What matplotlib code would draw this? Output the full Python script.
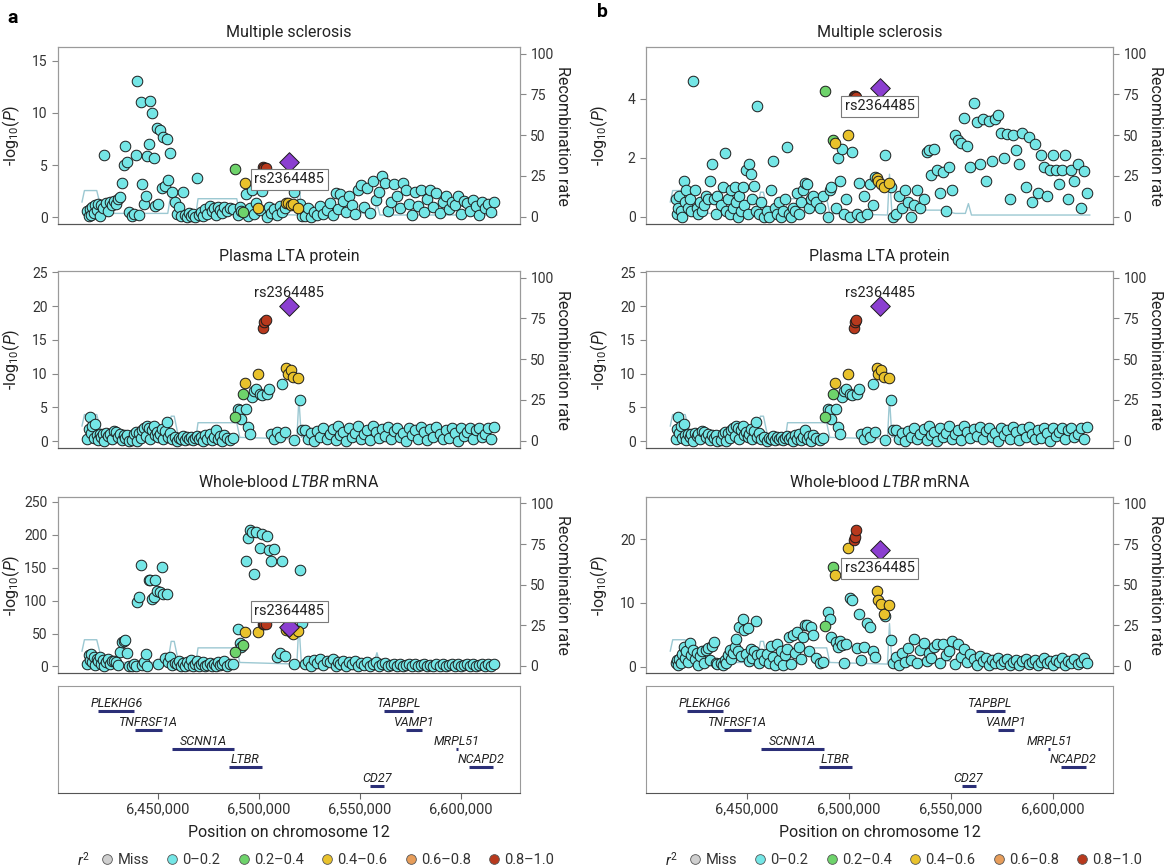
import numpy as np
import matplotlib.pyplot as plt
from matplotlib.lines import Line2D
from matplotlib.ticker import FuncFormatter

plt.rcParams['font.family'] = ['Roboto', 'DejaVu Sans']
plt.rcParams['mathtext.fontset'] = 'custom'
plt.rcParams['mathtext.rm'] = 'Roboto'
plt.rcParams['mathtext.it'] = 'Roboto:italic'
plt.rcParams['mathtext.bf'] = 'Roboto:bold'

# SNP positions (kb on chr12)
snp_kb = [
    6415.0, 6415.6, 6416.2, 6416.8, 6417.5, 6418.1, 6418.8, 6419.5, 6420.2, 6421.0, 6421.8, 6422.6, 6423.4,
    6424.3, 6425.2, 6426.1, 6427.0, 6428.0, 6429.0, 6430.0, 6431.0, 6432.0, 6433.0, 6433.8, 6434.6, 6435.4,
    6437.0, 6438.0, 6439.0, 6439.8, 6440.6, 6441.4, 6442.2, 6443.0, 6443.8, 6444.6, 6445.4, 6446.2, 6447.0,
    6447.8, 6448.6, 6449.4, 6450.2, 6451.0, 6451.8, 6452.6, 6453.4, 6454.2, 6455.0, 6456.0, 6457.0, 6458.5,
    6459.5, 6460.5, 6461.5, 6462.5, 6463.5, 6464.5, 6465.5, 6466.5, 6467.5, 6468.5, 6469.5, 6470.5, 6471.5,
    6472.5, 6473.5, 6474.5, 6475.5, 6476.5, 6477.5, 6478.5, 6479.5, 6480.5, 6481.5, 6482.5, 6484.0, 6485.5,
    6487.0, 6488.3, 6489.5, 6490.5, 6491.2, 6492.0, 6493.0, 6493.8, 6494.6, 6495.5, 6496.5, 6497.5,
    6498.5, 6499.5, 6500.5, 6501.5, 6502.2, 6502.7, 6503.3, 6504.0, 6505.0, 6506.0, 6507.5, 6509.0,
    6510.3, 6511.5, 6512.8, 6513.6, 6514.2, 6515.0, 6515.8, 6517.0, 6519.5, 6517.5, 6520.5, 6521.5,
    6523.0, 6524.5, 6526.0, 6527.5, 6529.0, 6530.5, 6532.0, 6533.5, 6535.0, 6536.5, 6538.0, 6539.0, 6540.0,
    6541.5, 6543.0, 6544.5, 6546.0, 6547.5, 6549.0, 6550.5, 6552.0, 6553.5, 6555.0, 6556.5, 6558.0, 6559.5,
    6561.0, 6562.5, 6564.0, 6565.5, 6567.0, 6568.5, 6570.0, 6571.5, 6573.0, 6574.5, 6576.0, 6577.5, 6579.0,
    6580.5, 6582.0, 6583.5, 6585.0, 6586.5, 6588.0, 6589.5, 6591.0, 6592.5, 6594.0, 6595.5, 6597.0, 6598.5,
    6600.0, 6601.5, 6603.0, 6604.5, 6606.0, 6607.5, 6609.0, 6610.5, 6612.0, 6613.5, 6615.0, 6616.5,
]

# r2 class with rs2364485: 0 = 0-0.2, 1 = 0.2-0.4, 2 = 0.4-0.6, 3 = 0.6-0.8, 4 = 0.8-1.0, 5 = lead SNP
ld_class = [
    0, 0, 0, 0, 0, 0, 0, 0, 0, 0, 0, 0, 0, 0, 0, 0, 0, 0, 0, 0, 0, 0, 0, 0, 0, 0,
    0, 0, 0, 0, 0, 0, 0, 0, 0, 0, 0, 0, 0, 0, 0, 0, 0, 0, 0, 0, 0, 0, 0, 0, 0, 0,
    0, 0, 0, 0, 0, 0, 0, 0, 0, 0, 0, 0, 0, 0, 0, 0, 0, 0, 0, 0, 0, 0, 0, 0, 0, 0,
    0, 1, 0, 0, 0, 1, 2, 0, 0, 0, 0, 0, 0, 2, 0, 0, 4, 4, 4, 0, 0, 0, 0, 0,
    0, 0, 0, 2, 2, 5, 2, 2, 2, 0, 0, 0,
    0, 0, 0, 0, 0, 0, 0, 0, 0, 0, 0, 0, 0, 0, 0, 0, 0, 0, 0, 0, 0, 0, 0, 0, 0, 0, 0, 0, 0, 0, 0, 0,
    0, 0, 0, 0, 0, 0, 0, 0, 0, 0, 0, 0, 0, 0, 0, 0, 0, 0, 0, 0, 0, 0, 0, 0, 0, 0, 0, 0, 0, 0, 0, 0,
]

# -log10(P) per trait
logp_ms_a = [
    0.6, 0.1, 0.8, 0.2, 1.0, 0.4, 1.2, 0.7, 1.3, 0.1, 1.2, 0.9, 6.0, 1.4, 0.6, 1.5, 1.2, 1.6, 1.3, 1.8, 1.9, 3.3, 5.0, 6.8, 5.3, 0.5,
    0.1, 0.3, 6.0, 13.0, 0.2, 11.0, 3.2, 1.3, 2.0, 5.9, 7.0, 11.1, 10.0, 5.7, 1.1, 8.5, 1.3, 8.4, 2.8, 7.7, 3.0, 7.5, 3.6, 6.2, 2.4, 1.5,
    0.3, 1.0, 0.1, 2.4, 0.2, 0.0, 0.4, 0.1, 0.3, 0.0, 3.8, 0.2, 0.5, 0.1, 0.8, 0.3, 1.1, 0.6, 0.9, 0.2, 1.0, 0.7, 0.4, 1.0, 0.6, 0.9,
    0.8, 4.6, 0.2, 1.0, 0.6, 0.5, 3.3, 2.2, 0.1, 0.9, 2.6, 0.3, 1.4, 0.9, 0.7, 2.5, 4.8, 4.7, 4.75, 0.0, 1.0, 0.4, 0.8, 0.2,
    1.1, 0.5, 0.9, 1.4, 1.35, 5.3, 1.2, 1.25, 0.9, 2.4, 1.3, 0.1,
    0.1, 0.9, 0.0, 0.5, 0.2, 1.1, 0.3, 0.7, 1.4, 0.2, 2.3, 0.8, 2.2, 1.6, 0.5, 2.0, 1.2, 0.3, 2.6, 3.1, 1.0, 2.8, 0.4, 3.5, 1.7, 2.4,
    4.0, 3.3, 0.6, 1.5, 3.2, 2.0, 0.9, 3.3, 2.6, 1.3, 0.2, 2.4, 1.1, 2.6, 0.5, 1.8, 2.6, 1.0, 2.3, 0.4, 1.5, 2.0, 0.8, 1.5, 1.2, 2.0,
    0.3, 1.6, 1.4, 0.6, 1.7, 1.1, 0.2, 1.5, 0.9, 1.3, 0.5, 1.5,
]
logp_lta = [
    0.3, 1.8, 3.6, 1.2, 2.2, 0.5, 2.6, 0.9, 0.2, 1.1, 0.6, 1.0, 0.1, 1.2, 0.8, 1.1, 0.3, 1.5, 1.3, 0.7, 1.1, 0.2, 0.9, 0.5, 0.9, 0.1,
    0.2, 1.1, 1.4, 0.1, 1.2, 0.5, 1.6, 2.0, 0.8, 2.3, 1.9, 0.3, 1.6, 2.2, 0.9, 1.3, 0.6, 1.0, 1.8, 0.4, 1.5, 2.8, 0.7, 1.2, 0.3, 0.6,
    0.1, 0.5, 0.3, 0.8, 0.2, 0.6, 0.4, 0.7, 0.2, 0.5, 0.8, 0.3, 0.6, 0.1, 0.9, 0.4, 1.0, 0.2, 0.6, 1.7, 0.3, 0.8, 0.1, 0.9, 0.5, 0.2,
    0.5, 3.6, 4.7, 4.6, 3.3, 7.0, 8.6, 4.7, 2.1, 1.0, 6.6, 7.4, 7.7, 10.0, 7.0, 6.8, 16.7, 17.6, 18.0, 7.0, 7.8, 1.1, 0.3, 1.3,
    0.6, 8.5, 1.4, 10.8, 9.9, 20.0, 10.5, 9.5, 9.3, 0.2, 6.1, 1.6,
    1.6, 0.4, 1.2, 0.1, 1.5, 0.6, 2.0, 0.3, 1.1, 1.8, 0.2, 2.3, 0.9, 1.4, 0.1, 1.9, 0.7, 1.2, 2.2, 0.4, 1.0, 1.7, 0.2, 2.2, 1.3, 0.5,
    1.8, 0.8, 2.1, 0.3, 1.5, 2.0, 0.6, 1.2, 0.1, 2.0, 0.9, 1.6, 0.4, 2.1, 1.3, 0.2, 1.8, 0.7, 2.1, 1.0, 0.3, 1.6, 0.5, 2.0, 1.2, 0.1,
    2.0, 0.8, 1.4, 2.0, 0.4, 1.7, 2.0, 0.6, 1.1, 2.0, 0.3, 2.1,
]
logp_ltbr_a = [
    3, 18, 10, 19, 6, 14, 2, 12, 8, 15, 4, 10, 1, 7, 12, 3, 8, 9, 6, 2, 22, 37, 39, 40, 20, 1,
    1, 3, 0, 98, 105, 154, 2, 6, 19, 1, 132, 131, 103, 106, 132, 115, 4, 113, 151, 110, 13, 110, 7, 15, 2, 5,
    3, 9, 1, 5, 0, 7, 2, 10, 0, 4, 8, 1, 3, 6, 0, 2, 5, 1, 4, 0, 6, 2, 3, 8, 1, 4,
    3, 22, 57, 35, 30, 33, 53, 160, 195, 207, 205, 141, 204, 53, 180, 202, 65, 64, 65, 198, 177, 160, 178, 15,
    20, 160, 16, 55, 57, 60, 52, 50, 54, 4, 147, 66,
    3, 8, 1, 10, 5, 12, 2, 9, 6, 11, 0, 7, 4, 9, 1, 6, 3, 8, 0, 5, 2, 6, 0, 4, 7, 1,
    3, 5, 0, 2, 4, 1, 3, 0, 2, 4, 1, 3, 0, 2, 4, 1, 2, 0, 3, 1, 4, 0, 2, 3, 1, 4,
    0, 2, 3, 1, 4, 0, 2, 3, 1, 4, 0, 3,
]
logp_ms_b = [
    0.6, 0.1, 0.3, 0.7, 0.2, 0.0, 1.2, 0.5, 0.9, 0.3, 0.6, 0.2, 4.6, 0.9, 0.3, 0.1, 0.5, 0.2, 0.4, 0.7, 0.6, 1.2, 1.8, 0.6, 0.1, 0.7,
    0.4, 1.0, 2.15, 0.2, 0.6, 0.1, 0.9, 0.3, 1.0, 0.5, 0.0, 0.7, 0.2, 1.0, 0.4, 1.6, 0.1, 1.8, 1.45, 0.6, 1.05, 0.2, 3.75, 0.1, 0.5, 0.0,
    0.2, 0.0, 0.9, 1.9, 0.3, 0.1, 0.5, 0.0, 0.2, 0.6, 2.35, 0.1, 0.0, 0.3, 0.2, 0.8, 0.1, 0.5, 0.9, 1.15, 1.1, 0.3, 0.6, 0.7, 0.5, 0.3,
    0.7, 4.25, 0.0, 0.9, 1.0, 2.6, 2.5, 0.3, 2.0, 1.2, 2.3, 0.1, 0.6, 2.75, 0.0, 2.2, 4.1, 4.1, 4.05, 0.1, 1.15, 0.0, 0.7, 0.1,
    1.1, 0.4, 1.35, 1.3, 1.2, 4.35, 1.1, 1.0, 1.15, 2.1, 1.0, 0.0,
    0.1, 0.7, 0.3, 0.9, 0.5, 0.0, 0.4, 0.9, 0.3, 0.6, 2.2, 2.25, 1.4, 2.3, 1.6, 0.8, 1.5, 0.2, 1.7, 0.9, 2.75, 2.6, 2.5, 3.35, 2.4, 1.7,
    3.85, 3.2, 1.8, 3.3, 1.2, 3.25, 1.9, 3.3, 3.45, 2.85, 2.0, 2.8, 0.6, 2.75, 2.25, 1.8, 2.85, 1.0, 2.7, 0.5, 2.45, 0.8, 2.1, 1.7, 0.7, 1.6,
    2.1, 1.6, 1.1, 1.6, 2.1, 0.6, 1.6, 1.2, 1.8, 0.3, 1.55, 0.8,
]
logp_ltbr_b = [
    0.5, 1.0, 0.2, 1.2, 0.6, 2.0, 3.1, 1.4, 2.5, 0.8, 3.7, 1.9, 2.6, 1.2, 2.1, 0.3, 1.6, 2.4, 0.5, 2.6, 2.9, 1.0, 3.3, 3.9, 0.5, 0.4,
    0.5, 0.3, 1.0, 0.5, 1.8, 2.6, 1.2, 2.2, 3.0, 4.4, 2.5, 6.2, 1.6, 7.4, 5.7, 2.0, 6.0, 0.9, 2.8, 1.4, 2.4, 7.1, 1.8, 0.6, 2.0, 1.1,
    2.0, 0.5, 3.3, 1.5, 0.2, 3.6, 1.0, 2.4, 0.3, 1.8, 2.8, 4.7, 0.4, 5.0, 2.1, 5.4, 3.0, 1.2, 4.6, 6.6, 6.5, 2.5, 6.2, 4.9, 1.3, 0.6,
    0.8, 6.3, 8.5, 7.5, 4.7, 15.6, 14.3, 3.9, 3.1, 4.0, 3.4, 0.5, 3.6, 18.6, 10.8, 10.4, 19.9, 20.3, 21.4, 2.9, 8.2, 1.0, 3.0, 6.8,
    6.2, 2.4, 1.5, 11.9, 10.5, 18.3, 9.8, 8.3, 9.6, 8.0, 4.1, 0.5,
    1.5, 0.3, 2.2, 0.8, 2.9, 1.1, 4.4, 0.5, 2.6, 3.7, 0.9, 2.1, 1.4, 3.0, 3.6, 0.6, 3.6, 1.8, 2.4, 4.0, 0.4, 3.6, 1.5, 2.8, 0.7, 2.0,
    1.2, 0.3, 1.6, 0.9, 1.4, 0.2, 1.1, 0.6, 1.3, 0.4, 0.9, 1.2, 0.2, 0.8, 1.1, 0.3, 0.9, 1.2, 0.4, 0.7, 1.0, 0.2, 0.8, 1.3, 0.5, 0.9,
    0.3, 1.1, 0.7, 1.4, 0.2, 0.9, 0.6, 1.2, 0.4, 0.8, 1.4, 0.6,
]

# recombination rate (cM/Mb)
recomb_kb = [6412.3, 6413.5, 6419.6, 6421.6, 6423.5, 6440.0, 6454.8, 6456.5, 6458.0, 6460.0, 6468.8, 6469.8, 6489.0,
             6490.5, 6518.8, 6519.8, 6521.0, 6524.0, 6545.0, 6552.0, 6557.0, 6558.5, 6560.0, 6590.0, 6618.0]
recomb_rate = [9, 16, 16, 6, 2, 2, 2, 15, 15, 3, 2, 11, 11, 2, 1, 26, 2, 4, 4, 2, 2, 8, 1, 1, 1]

# genes
gene_names = ['PLEKHG6', 'TNFRSF1A', 'SCNN1A', 'LTBR', 'CD27', 'TAPBPL', 'VAMP1', 'MRPL51', 'NCAPD2']
gene_start = [6420.4, 6438.7, 6457.0, 6485.0, 6555.2, 6562.0, 6572.8, 6597.6, 6604.0]
gene_end = [6438.3, 6452.0, 6487.6, 6501.3, 6562.0, 6576.6, 6581.0, 6598.6, 6616.0]
gene_row = [1, 2, 3, 4, 5, 1, 2, 3, 4]

legend_labels = ['Miss', '0\u20130.2', '0.2\u20130.4', '0.4\u20130.6', '0.6\u20130.8', '0.8\u20131.0']
legend_colors = ['#cfcfcf', '#74e6e6', '#6ed36b', '#e9c22c', '#e79d5a', '#b8391d']

LD_COLORS = ['#74e6e6', '#6ed36b', '#e9c22c', '#e79d5a', '#b8391d', '#8b3fd0']
EDGE = '#1c1c1c'
RECOMB = '#9cc8d2'
TXT = '#222222'

snp_bp = np.array(snp_kb) * 1000
ld = np.array(ld_class)
recomb_bp = np.array(recomb_kb) * 1000
XLIM = (6400400, 6629400)

W, H = 1167, 868
fig = plt.figure(figsize=(W / 100, H / 100), dpi=100)


def box(x0, y0, x1, y1):
    return [x0 / W, 1 - y1 / H, (x1 - x0) / W, (y1 - y0) / H]


def style_axis(a):
    for s in a.spines.values():
        s.set_color('#9a9a9a')
        s.set_linewidth(0.8)
    a.tick_params(axis='y', labelsize=10, labelcolor='#333333', color='#888888', length=4, width=0.8)


def locus_panel(rect, width_px, logp, title, ylim, yticks, label_y, boxed):
    ax = fig.add_axes(rect)
    ax2 = ax.twinx()
    ax2.plot(recomb_bp, recomb_rate, color=RECOMB, lw=1.0)
    ax2.set_ylim(-4.5, 104)
    ax2.set_yticks([0, 25, 50, 75, 100])
    ax2.set_ylabel('Recombination rate', rotation=270, va='bottom', fontsize=11.5, color=TXT)
    ax2.yaxis.set_label_coords(1 + 35 / width_px, 0.5)
    ax.set_zorder(ax2.get_zorder() + 1)
    ax.patch.set_visible(False)

    y = np.asarray(logp, dtype=float)
    for k in range(5):
        sel = ld == k
        ax.scatter(snp_bp[sel], y[sel], s=58, c=LD_COLORS[k], edgecolors=EDGE, linewidths=0.7, zorder=2 + k)
    sel = ld == 5
    ax.scatter(snp_bp[sel], y[sel], s=100, marker='D', c=LD_COLORS[5], edgecolors=EDGE, linewidths=0.7, zorder=8)
    lead_x = snp_bp[sel][0]
    bbox = dict(boxstyle='square,pad=0.25', fc='white', ec='#7a7a7a', lw=0.8) if boxed else None
    ax.text(lead_x, label_y, 'rs2364485', ha='center', va='center', fontsize=10.5, color=TXT, zorder=9, bbox=bbox)

    ax.set_xlim(XLIM)
    ax.set_ylim(ylim)
    ax.set_yticks(yticks)
    ax.tick_params(axis='x', bottom=False, labelbottom=False)
    ax.set_title(title, fontsize=11.5, color=TXT, pad=7)
    ax.set_ylabel(r'-log$_{10}$($\it{P}$)', fontsize=11.5, color=TXT)
    ax.yaxis.set_label_coords(-36 / width_px, 0.5)
    style_axis(ax)
    style_axis(ax2)
    ax.spines['bottom'].set_color('#555555')
    ax2.spines['bottom'].set_color('#555555')
    return ax


def gene_panel(rect):
    g = fig.add_axes(rect)
    for name, s, e, r in zip(gene_names, gene_start, gene_end, gene_row):
        g.plot([s * 1000, e * 1000], [-r, -r], color='#2b2f77', lw=2.2, solid_capstyle='butt')
        g.text((s + e) / 2 * 1000, -r + 0.4, name, ha='center', va='center', fontsize=9, style='italic', color=TXT)
    g.set_xlim(XLIM)
    g.set_ylim(-5.37, 0.33)
    g.set_yticks([])
    g.set_xticks([6450000, 6500000, 6550000, 6600000])
    g.xaxis.set_major_formatter(FuncFormatter(lambda v, p: f'{int(v):,}'))
    g.tick_params(axis='x', labelsize=10.5, labelcolor='#333333', color='#666666', length=4, width=0.8, pad=3)
    for s in g.spines.values():
        s.set_color('#9a9a9a')
        s.set_linewidth(0.8)
    g.spines['bottom'].set_color('#555555')
    g.set_xlabel('Position on chromosome 12', fontsize=11.5, color=TXT, labelpad=6)
    return g


def r2_legend(x_r2, x_leg):
    handles = [Line2D([], [], marker='o', ls='', ms=7, mfc=c, mec='#555555', mew=0.6) for c in legend_colors]
    fig.text(x_r2 / W, 1 - 860 / H, r'$\it{r}^2$', fontsize=10.5, color=TXT, ha='center', va='center')
    fig.legend(handles, legend_labels, loc='center left', bbox_to_anchor=(x_leg / W, 1 - 860 / H), ncol=6,
               frameon=False, fontsize=10.5, handletextpad=0.2, columnspacing=1.1, handlelength=1.0,
               borderpad=0, borderaxespad=0, labelcolor='#333333')


rows = [(47, 224), (271, 448), (497, 673)]
cols = [(58, 520), (646, 1113)]

left_specs = [
    (logp_ms_a, 'Multiple sclerosis', (-0.64, 16.3), [0, 5, 10, 15], 3.65, True),
    (logp_lta, 'Plasma LTA protein', (-1.0, 25.2), [0, 5, 10, 15, 20, 25], 21.9, False),
    (logp_ltbr_a, r'Whole-blood $\it{LTBR}$ mRNA', (-10, 257.6), [0, 50, 100, 150, 200, 250], 83.7, True),
]
right_specs = [
    (logp_ms_b, 'Multiple sclerosis', (-0.24, 5.74), [0, 2, 4], 3.74, True),
    (logp_lta, 'Plasma LTA protein', (-1.0, 25.2), [0, 5, 10, 15, 20, 25], 21.9, False),
    (logp_ltbr_b, r'Whole-blood $\it{LTBR}$ mRNA', (-1.0, 26.6), [0, 10, 20], 15.4, True),
]

for (x0, x1), specs in zip(cols, [left_specs, right_specs]):
    for (y0, y1), spec in zip(rows, specs):
        locus_panel(box(x0, y0, x1, y1), x1 - x0, *spec)
    gene_panel(box(x0, 686, x1, 793))

r2_legend(83, 100)
r2_legend(671, 688)

fig.text(7 / W, 1 - 18 / H, 'a', fontsize=14, fontweight='bold', va='center', color='black')
fig.text(597 / W, 1 - 12 / H, 'b', fontsize=14, fontweight='bold', va='center', color='black')

fig.savefig('out.png', dpi=100, facecolor='white')
